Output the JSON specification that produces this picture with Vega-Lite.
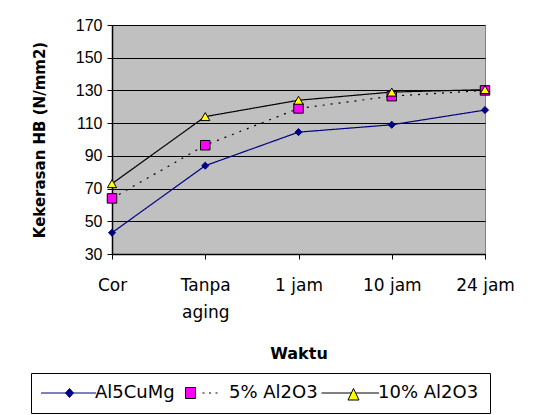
{
  "$schema": "https://vega.github.io/schema/vega-lite/v6.json",
  "width": 373,
  "height": 229,
  "autosize": {"type": "none"},
  "padding": {"left": 112, "top": 25, "right": 62, "bottom": 161},
  "background": "white",
  "config": {
    "font": "Liberation Sans",
    "view": {"fill": "#C0C0C0", "stroke": "#808080", "strokeWidth": 1},
    "axis": {"labelColor": "#000", "titleColor": "#000", "domainColor": "#000", "tickColor": "#000", "titleFont": "DejaVu Sans", "titleFontWeight": "bold"}
  },
  "data": {
    "values": [
      {"series": "Al5CuMg", "waktu": "Cor", "value": 43},
      {"series": "Al5CuMg", "waktu": "Tanpa aging", "value": 84},
      {"series": "Al5CuMg", "waktu": "1 jam", "value": 104.5},
      {"series": "Al5CuMg", "waktu": "10 jam", "value": 109},
      {"series": "Al5CuMg", "waktu": "24 jam", "value": 118},
      {"series": "5% Al2O3", "waktu": "Cor", "value": 64},
      {"series": "5% Al2O3", "waktu": "Tanpa aging", "value": 96.5},
      {"series": "5% Al2O3", "waktu": "1 jam", "value": 119},
      {"series": "5% Al2O3", "waktu": "10 jam", "value": 126.5},
      {"series": "5% Al2O3", "waktu": "24 jam", "value": 130},
      {"series": "10% Al2O3", "waktu": "Cor", "value": 73},
      {"series": "10% Al2O3", "waktu": "Tanpa aging", "value": 114},
      {"series": "10% Al2O3", "waktu": "1 jam", "value": 124},
      {"series": "10% Al2O3", "waktu": "10 jam", "value": 129},
      {"series": "10% Al2O3", "waktu": "24 jam", "value": 130.5}
    ]
  },
  "encoding": {
    "x": {
      "field": "waktu", "type": "ordinal", "sort": ["Cor", "Tanpa aging", "1 jam", "10 jam", "24 jam"],
      "scale": {"type": "point", "padding": 0},
      "axis": {"title": "Waktu", "titleFontSize": 16, "labelFont": "DejaVu Sans", "labelFontSize": 17, "labelAngle": 0, "labelPadding": 18, "labelLineHeight": 27, "labelBaseline": "top", "labelExpr": "datum.label == 'Tanpa aging' ? ['Tanpa', 'aging'] : datum.label", "tickSize": 5, "titlePadding": 25, "grid": false, "domainWidth": 1.5}
    },
    "y": {
      "field": "value", "type": "quantitative",
      "scale": {"domain": [30, 170], "nice": false, "zero": false},
      "axis": {"title": "Kekerasan HB (N/mm2)", "titleFontSize": 15, "labelFont": "Liberation Sans", "labelFontSize": 16, "values": [30, 50, 70, 90, 110, 130, 150, 170], "grid": true, "gridColor": "#000", "gridWidth": 1.2, "gridOpacity": 1, "tickSize": 5, "labelPadding": 5, "titlePadding": 28, "domainWidth": 1.5}
    }
  },
  "layer": [
    {
      "mark": {"type": "line", "strokeWidth": 1.2},
      "encoding": {
        "detail": {"field": "series"},
        "stroke": {"condition": {"test": "datum.series == 'Al5CuMg'", "value": "#000080"}, "value": "#000000"},
        "strokeDash": {"condition": {"test": "datum.series == '5% Al2O3'", "value": [2, 6]}, "value": [1, 0]}
      }
    },
    {
      "mark": {"type": "point", "filled": true, "opacity": 1, "strokeWidth": 1},
      "encoding": {
        "shape": {"condition": [{"test": "datum.series == 'Al5CuMg'", "value": "diamond"}, {"test": "datum.series == '5% Al2O3'", "value": "square"}], "value": "triangle-up"},
        "size": {"condition": [{"test": "datum.series == 'Al5CuMg'", "value": 50}, {"test": "datum.series == '5% Al2O3'", "value": 90}], "value": 85},
        "stroke": {"condition": {"test": "datum.series == 'Al5CuMg'", "value": "#000080"}, "value": "#000000"},
        "fill": {
          "field": "series", "type": "nominal",
          "scale": {"domain": ["Al5CuMg", "5% Al2O3", "10% Al2O3"], "range": ["#000080", "#FF00FF", "#FFFF00"]}
        }
      }
    },
    {
      "mark": {"type": "point", "filled": true, "opacity": 0, "strokeWidth": 1},
      "encoding": {
        "fill": {"field": "series", "type": "nominal"},
        "stroke": {"field": "series", "type": "nominal", "scale": {"domain": ["Al5CuMg", "5% Al2O3", "10% Al2O3"], "range": ["#000080", "#000000", "#000000"]}},
        "shape": {
          "field": "series", "type": "nominal",
          "scale": {"domain": ["Al5CuMg", "5% Al2O3", "10% Al2O3"], "range": [
            "M-6.7,0H4.3M-1.0,-0.9L-0.2,0L-1.0,0.9L-1.8,0Z",
            "M-4.6,-1.1H-2.6V1.1H-4.6ZM-1.2,0H-0.8M0.1,0H0.5M1.4,0H1.8",
            "M-7.2,0H-1.25M-0.35,0H4.3M-0.8,-0.9L0.3,1.4H-1.9Z"
          ]},
          "legend": {
            "title": null, "orient": "none", "direction": "horizontal", "legendX": -81, "legendY": 348,
            "strokeColor": "#000", "padding": 11, "fillColor": "white",
            "labelFont": "DejaVu Sans", "labelFontSize": 18, "labelColor": "#000",
            "symbolSize": 100, "symbolOpacity": 1, "symbolOffset": 23.5, "labelOffset": 11.5, "columnPadding": 1, "symbolStrokeWidth": 1,
            "encode": {
              "legend": {"update": {"strokeWidth": {"value": 1.5}}}
            }
          }
        }
      }
    }
  ]
}
